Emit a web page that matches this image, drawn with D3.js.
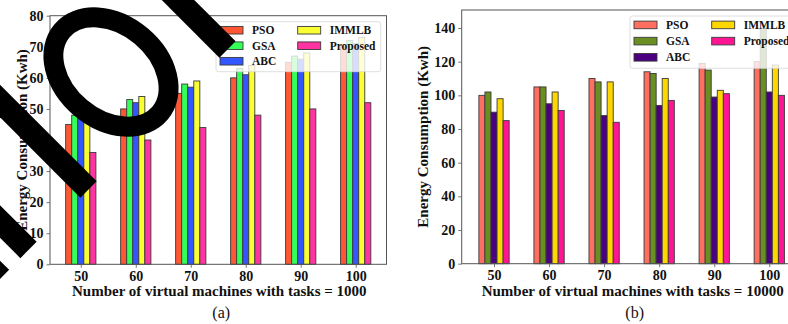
<!DOCTYPE html>
<html>
<head>
<meta charset="utf-8">
<script src="https://cdn.jsdelivr.net/npm/d3@7"></script>
<style>
  body { margin: 0; background: #fff; }
  svg { display: block; font-family: "Liberation Serif", "Times New Roman", serif; }
</style>
</head>
<body>
<figure id="chart" style="margin:0"></figure>
<script>
// data
const categories = [50, 60, 70, 80, 90, 100];
const seriesNames = ["PSO", "GSA", "ABC", "IMMLB", "Proposed"];

const psoA = [45, 50, 55, 60, 65, 70];
const gsaA = [48, 53, 58, 63, 67, 72];
const abcA = [47, 52, 57, 61, 66, 71];
const immlbA = [49, 54, 59, 64, 68, 73];
const proposedA = [36, 40, 44, 48, 50, 52];

const psoB = [100, 105, 110, 114, 119, 120];
const gsaB = [102, 105, 108, 113, 115, 140];
const abcB = [90, 95, 88, 94, 99, 102];
const immlbB = [98, 102, 108, 110, 103, 118];
const proposedB = [85, 91, 84, 97, 101, 100];

const yTicksA = [0, 10, 20, 30, 40, 50, 60, 70, 80];
const yTicksB = [0, 20, 40, 60, 80, 100, 120, 140];

const colorsA = ["#ff5733", "#33ff57", "#3357ff", "#f9ff33", "#ff33a1"];
const colorsB = ["#ff6f61", "#6b8e23", "#4b0082", "#ffd700", "#ff1493"];

const width = 788, height = 324;

const svg = d3.select("figure#chart")
  .append("svg")
  .attr("width", width)
  .attr("height", height);

svg.append("rect").attr("width", width).attr("height", height).attr("fill", "#fff");

const panels = [
  {
    series: [psoA, gsaA, abcA, immlbA, proposedA], colors: colorsA, ticks: yTicksA, yMax: 80,
    left: 50, right: 386.5, top: 15.7, bottom: 264.3, pad: 0.56,
    xLabel: "Number of virtual machines with tasks = 1000", caption: "(a)",
    yLabelX: 22, legend: { x: 216, y: 21.7, w: 164.7, h: 50, col2: 77.7, row: 15.5 }
  },
  {
    series: [psoB, gsaB, abcB, immlbB, proposedB], colors: colorsB, ticks: yTicksB, yMax: 150.7,
    left: 461.7, right: 801.6, top: 10, bottom: 263.7, pad: 0.587,
    xLabel: "Number of virtual machines with tasks = 10000", caption: "(b)",
    yLabelX: 423, legend: { x: 630, y: 16, w: 175, h: 52.3, col2: 77.7, row: 16.2 }
  }
];

panels.forEach(drawPanel);
drawOverlay();

function drawPanel(p) {
  const g = svg.append("g");

  const x = d3.scalePoint()
    .domain(categories)
    .range([p.left, p.right])
    .padding(p.pad);

  const y = d3.scaleLinear()
    .domain([0, p.yMax])
    .range([p.bottom, p.top]);

  const bw = x.step() * 0.11;

  // bars
  p.series.forEach((vals, s) => {
    g.selectAll(null)
      .data(vals)
      .enter()
      .append("rect")
      .attr("x", (d, i) => x(categories[i]) + (s - 2) * bw - bw / 2)
      .attr("y", d => y(d))
      .attr("width", bw)
      .attr("height", d => p.bottom - y(d))
      .attr("fill", p.colors[s])
      .attr("stroke", "#3a3a3a")
      .attr("stroke-width", 0.9);
  });

  // axes
  const yAxis = g.append("g")
    .attr("transform", "translate(" + p.left + ",0)")
    .call(d3.axisLeft(y).tickValues(p.ticks).tickSize(3.5).tickPadding(3).tickFormat(d3.format("d")));
  const xAxis = g.append("g")
    .attr("transform", "translate(0," + p.bottom + ")")
    .call(d3.axisBottom(x).tickSize(3.5).tickPadding(3));

  [yAxis, xAxis].forEach(a => {
    a.select(".domain").remove();
    a.selectAll("line").attr("stroke", "#555").attr("stroke-width", 0.8);
    a.selectAll("text")
      .attr("fill", "#111")
      .style("font-size", "14px")
      .style("font-weight", "bold")
      .style("font-family", "'Liberation Serif', serif");
  });

  // frame
  g.append("rect")
    .attr("x", p.left).attr("y", p.top)
    .attr("width", p.right - p.left).attr("height", p.bottom - p.top)
    .attr("fill", "none").attr("stroke", "#555").attr("stroke-width", 1);

  // labels
  g.append("text")
    .attr("x", (x(categories[0]) + x(categories[5])) / 2 + 1)
    .attr("y", 296)
    .attr("text-anchor", "middle")
    .style("font-size", "15px").style("font-weight", "bold").attr("fill", "#111")
    .text(p.xLabel);

  g.append("text")
    .attr("transform", "translate(" + p.yLabelX + "," + ((p.top + p.bottom) / 2) + ") rotate(-90)")
    .attr("text-anchor", "middle")
    .attr("dominant-baseline", "central")
    .style("font-size", "15px").style("font-weight", "bold").attr("fill", "#111")
    .text("Energy Consumption (Kwh)");

  g.append("text")
    .attr("x", (x(categories[0]) + x(categories[5])) / 2 + 3)
    .attr("y", 318)
    .attr("text-anchor", "middle")
    .style("font-size", "16px").attr("fill", "#111")
    .text(p.caption);

  // legend
  const L = p.legend;
  const lg = g.append("g").attr("transform", "translate(" + L.x + "," + L.y + ")");
  lg.append("rect")
    .attr("width", L.w).attr("height", L.h).attr("rx", 2.5)
    .attr("fill", "#fff").attr("fill-opacity", 0.8)
    .attr("stroke", "#d6d6d6").attr("stroke-width", 0.8);

  const item = lg.selectAll("g.item")
    .data(seriesNames)
    .enter()
    .append("g")
    .attr("class", "item")
    .attr("transform", (d, i) => "translate(" + (4 + (i >= 3 ? L.col2 : 0)) + "," + (L.row * 0.55 + (i % 3) * L.row) + ")");

  item.append("rect")
    .attr("y", -3.8).attr("width", 23).attr("height", 7.6)
    .attr("fill", (d, i) => p.colors[i])
    .attr("stroke", "#3a3a3a").attr("stroke-width", 0.9);

  item.append("text")
    .attr("x", 32).attr("y", 0)
    .attr("dominant-baseline", "central")
    .style("font-size", "11.5px").style("font-weight", "bold").attr("fill", "#111")
    .text(d => d);
}

// black scribble that covers part of panel (a)
function drawOverlay() {
  const o = svg.append("g").attr("fill", "none").attr("stroke", "#000");

  o.append("ellipse")
    .attr("transform", "translate(111,72) rotate(40)")
    .attr("rx", 64).attr("ry", 47)
    .attr("stroke-width", 20);

  const strokes = [
    [[-20, 81], [88.5, 189.5]],
    [[-30, 191.5], [28.5, 250]],
    [[-30, 247], [1, 278]],
    [[150, -28], [227.5, 49.5]]
  ];
  o.selectAll("path.stroke")
    .data(strokes)
    .enter()
    .append("path")
    .attr("class", "stroke")
    .attr("d", d => d3.line()(d))
    .attr("stroke-width", 23)
    .attr("stroke-linecap", "butt");
}
</script>
</body>
</html>
